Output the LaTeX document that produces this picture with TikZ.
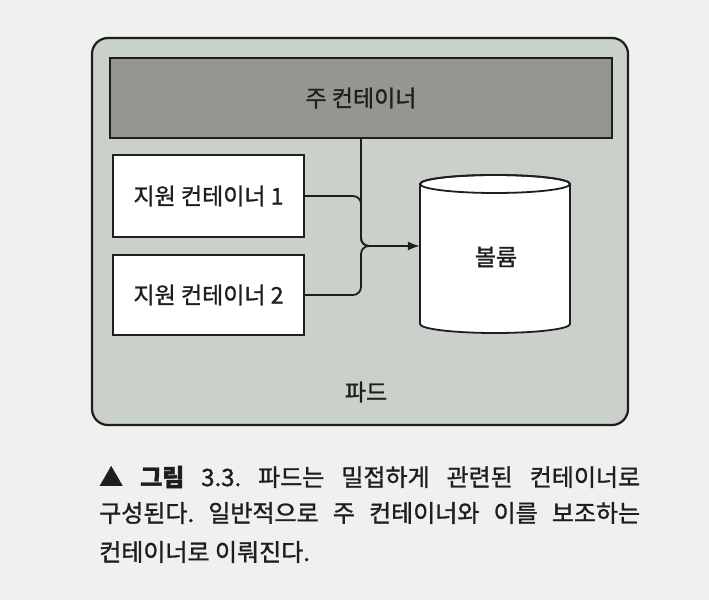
\documentclass[tikz,border=0pt]{standalone}
\usepackage{fontspec}
\setmainfont{Noto Sans CJK KR}[FakeBold=1.2]
\frenchspacing
\usetikzlibrary{arrows.meta}
\definecolor{pagebg}{RGB}{240,241,239}
\definecolor{podfill}{RGB}{202,208,202}
\definecolor{mainfill}{RGB}{150,150,145}
\definecolor{ink}{RGB}{30,30,30}
\begin{document}
\begin{tikzpicture}[x=1pt,y=1pt,
  lbl/.style={text=ink, font=\fontsize{23}{27}\selectfont},
  box/.style={lbl, draw=ink, line width=1.8pt, fill=white, inner sep=0pt},
  conn/.style={draw=ink, line width=1.8pt, rounded corners=8pt},
  captext/.style={anchor=west, inner sep=0pt, text=ink, font=\fontsize{24}{28}\selectfont}]
\fill[pagebg] (0,0) rectangle (709,600);
\useasboundingbox (0,0) rectangle (709,600);
% pod
\node[draw=ink, line width=2.2pt, fill=podfill, rounded corners=16pt,
      minimum width=536pt, minimum height=387pt, inner sep=0pt] (pod) at (360,368.5) {};
\node[lbl] (podlabel) at (366,208) {파드};
% main container
\node[box, fill=mainfill, minimum width=502pt, minimum height=80pt] (main) at (361,502) {주 컨테이너};
% sidecars
\node[box, minimum width=191pt, minimum height=82pt] (s1) at (208.5,404) {지원 컨테이너 1};
\node[box, minimum width=191pt, minimum height=80pt] (s2) at (208.5,305) {지원 컨테이너 2};
% volume (cylinder)
\filldraw[fill=white, draw=ink, line width=1.8pt]
  (420,416) -- (420,276) arc[start angle=180, end angle=360, x radius=75, y radius=9]
  -- (570,416) arc[start angle=0, end angle=180, x radius=75, y radius=9] -- cycle;
\draw[draw=ink, line width=1.8pt] (495,416) ellipse [x radius=75, y radius=9];
\node[inner sep=0pt, minimum width=150pt, minimum height=140pt] (vol) at (495,346) {};
\node[lbl] (vollabel) at (496,343) {볼륨};
% connectors
\coordinate (j) at (main.south |- 0,354);
\coordinate (k) at (392,354);
\draw[conn] (main.south) -- (j) -- (k);
\draw[conn] (s1.east) -| (j) -- (k);
\draw[conn] (s2.east) -| (j) -- (k);
\draw[draw=ink, line width=1.8pt, -{Latex[length=12pt,width=9pt]}] (k) -- (j -| vol.west);
% caption
\node[captext] (c1) at (99,123) {\makebox[541pt][s]{▲ \textbf{그림} 3.3. 파드는 밀접하게 관련된 컨테이너로}};
\node[captext] (c2) at (99,87) {\makebox[541pt][s]{구성된다. 일반적으로 주 컨테이너와 이를 보조하는}};
\node[captext] (c3) at (99,48) {컨테이너로 이뤄진다.};
\end{tikzpicture}
\end{document}
